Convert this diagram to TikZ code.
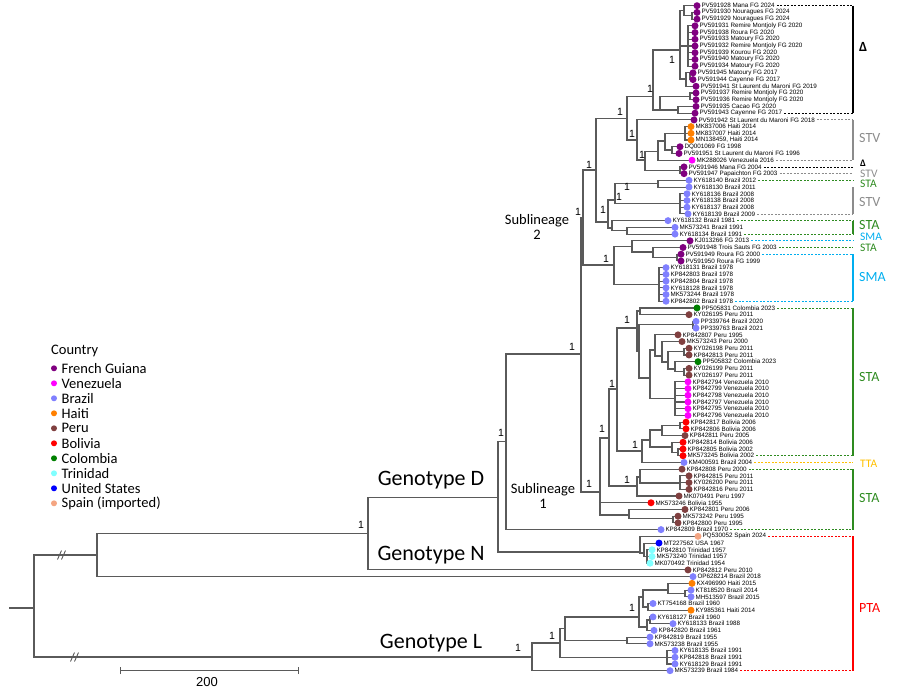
\documentclass[tikz,border=0pt]{standalone}
\usepackage{fontspec}
\setmainfont{Carlito}
\newfontfamily\arialf{Liberation Sans}
\definecolor{fg}{HTML}{800080}
\definecolor{ven}{HTML}{FF00FF}
\definecolor{bra}{HTML}{8080FF}
\definecolor{hai}{HTML}{FF8000}
\definecolor{per}{HTML}{804040}
\definecolor{bol}{HTML}{FF0000}
\definecolor{col}{HTML}{008000}
\definecolor{tri}{HTML}{80FFFF}
\definecolor{usa}{HTML}{0000FF}
\definecolor{spa}{HTML}{F4A582}
\definecolor{treeg}{HTML}{5A5A5A}
\definecolor{staC}{HTML}{2E8B20}
\definecolor{stvC}{HTML}{8C8C8C}
\definecolor{smaC}{HTML}{00AEEF}
\definecolor{ttaC}{HTML}{FFC000}
\definecolor{ptaC}{HTML}{FF0000}
\pgfdeclarelayer{bg}
\pgfsetlayers{bg,main}
\newcommand\labf{\arialf\fontsize{6.3}{7}\selectfont}
\newcommand\tp[4]{%
  \coordinate (t#1) at (#2,{5.7+6.717*(#1-1)});
  \node[tdot,fill=#3] (d#1) at (t#1) {};
  \node[lab] (l#1) at ([xshift=4.3pt]t#1) {#4};}
\newcommand\br[2]{\begin{pgfonlayer}{bg}\foreach \c in {#2}{\draw[br] (#1) |- (\c);}\end{pgfonlayer}}
\newcommand\nd[3]{\coordinate (#1) at (#2,#3);}
\newcommand\brk[5]{% color, top, bottom, label, label y
  \draw[lead,#1] ([xshift=2pt]l#2.east) -- (l#2.east -| bx);
  \draw[lead,#1] ([xshift=2pt]l#3.east) -- (l#3.east -| bx);
  \draw[#1,line width=1.4pt] (t#2 -| bx) -- (t#3 -| bx);
  \node[blab,text=#1] (bl#2) at (859,#5) {#4};}
\newcommand\sgl[4]{% color, idx, label, label y
  \draw[lead,#1] ([xshift=2pt]l#2.east) -- (l#2.east -| bx);
  \node[blab,text=#1,font=\fontsize{11.5}{12}\selectfont] (bl#2) at (860,#4) {#3};}
\begin{document}
\begin{tikzpicture}[x=1pt,y=-1pt,
  br/.style={draw=treeg,line width=1.1pt},
  tdot/.style={circle,inner sep=0pt,minimum size=7pt,draw=none},
  lab/.style={anchor=west,inner sep=0pt,font=\labf},
  lead/.style={line width=0.8pt,dash pattern=on 2pt off 1.5pt},
  blab/.style={anchor=west,inner sep=0pt,font=\fontsize{14}{15}\selectfont},
  bs/.style={inner sep=0pt,font=\arialf\fontsize{10.5}{11}\selectfont,text=black},
  geno/.style={inner sep=0pt,font=\fontsize{22}{24}\selectfont},
  subl/.style={inner sep=0pt,align=center,font=\fontsize{14.5}{15}\selectfont},
  legd/.style={circle,inner sep=0pt,minimum size=6pt,draw=none},
  legt/.style={anchor=west,inner sep=0pt,font=\fontsize{14.5}{15}\selectfont}]
\useasboundingbox (0,0) rectangle (900,698);
\coordinate (bx) at (853,0);
% ---------- tips ----------
\tp{1}{697}{fg}{PV591928 Mana FG 2024}
\tp{2}{697}{fg}{PV591930 Nouragues FG 2024}
\tp{3}{697}{fg}{PV591929 Nouragues FG 2024}
\tp{4}{695}{fg}{PV591931 Remire Montjoly FG 2020}
\tp{5}{695}{fg}{PV591938 Roura FG 2020}
\tp{6}{695}{fg}{PV591933 Matoury FG 2020}
\tp{7}{695}{fg}{PV591932 Remire Montjoly FG 2020}
\tp{8}{695}{fg}{PV591939 Kourou FG 2020}
\tp{9}{695}{fg}{PV591940 Matoury FG 2020}
\tp{10}{695}{fg}{PV591934 Matoury FG 2020}
\tp{11}{693}{fg}{PV591945 Matoury FG 2017}
\tp{12}{693}{fg}{PV591944 Cayenne FG 2017}
\tp{13}{696}{fg}{PV591941 St Laurent du Maroni FG 2019}
\tp{14}{696}{fg}{PV591937 Remire Montjoly FG 2020}
\tp{15}{696}{fg}{PV591936 Remire Montjoly FG 2020}
\tp{16}{696}{fg}{PV591935 Cacao FG 2020}
\tp{17}{695}{fg}{PV591943 Cayenne FG 2017}
\tp{18}{694}{fg}{PV591942 St Laurent du Maroni FG 2018}
\tp{19}{691}{hai}{MK837006 Haiti 2014}
\tp{20}{691}{hai}{MK837007 Haiti 2014}
\tp{21}{691}{hai}{MN138459, Haiti 2014}
\tp{22}{680}{fg}{DQ001069 FG 1998}
\tp{23}{679}{fg}{PV591951 St Laurent du Maroni FG 1996}
\tp{24}{692}{ven}{MK288026 Venezuela 2016}
\tp{25}{684}{fg}{PV591946 Mana FG 2004}
\tp{26}{684}{fg}{PV591947 Papaichton FG 2003}
\tp{27}{689}{bra}{KY618140 Brazil 2012}
\tp{28}{689}{bra}{KY618130 Brazil 2011}
\tp{29}{687}{bra}{KY618136 Brazil 2008}
\tp{30}{687}{bra}{KY618138 Brazil 2008}
\tp{31}{687}{bra}{KY618137 Brazil 2008}
\tp{32}{688}{bra}{KY618139 Brazil 2009}
\tp{33}{668}{bra}{KY618132 Brazil 1981}
\tp{34}{675}{bra}{MK573241 Brazil 1991}
\tp{35}{675}{bra}{KY618134 Brazil 1991}
\tp{36}{690}{fg}{KJ013266 FG 2013}
\tp{37}{683}{fg}{PV591948 Trois Sauts FG 2003}
\tp{38}{681}{fg}{PV591949 Roura FG 2000}
\tp{39}{681}{fg}{PV591950 Roura FG 1999}
\tp{40}{666}{bra}{KY618131 Brazil 1978}
\tp{41}{666}{bra}{KP842803 Brazil 1978}
\tp{42}{666}{bra}{KP842804 Brazil 1978}
\tp{43}{666}{bra}{KY618128 Brazil 1978}
\tp{44}{666}{bra}{MK573244 Brazil 1978}
\tp{45}{666}{bra}{KP842802 Brazil 1978}
\tp{46}{697}{col}{PP505831 Colombia 2023}
\tp{47}{689}{per}{KY026195 Peru 2011}
\tp{48}{696}{bra}{PP339764 Brazil 2020}
\tp{49}{696}{bra}{PP339763 Brazil 2021}
\tp{50}{678}{per}{KP842807 Peru 1995}
\tp{51}{682}{per}{MK573243 Peru 2000}
\tp{52}{689}{per}{KY026198 Peru 2011}
\tp{53}{689}{per}{KP842813 Peru 2011}
\tp{54}{698}{col}{PP505832 Colombia 2023}
\tp{55}{689}{per}{KY026199 Peru 2011}
\tp{56}{689}{per}{KY026197 Peru 2011}
\tp{57}{688}{ven}{KP842794 Venezuela 2010}
\tp{58}{688}{ven}{KP842799 Venezuela 2010}
\tp{59}{688}{ven}{KP842798 Venezuela 2010}
\tp{60}{688}{ven}{KP842797 Venezuela 2010}
\tp{61}{688}{ven}{KP842795 Venezuela 2010}
\tp{62}{688}{ven}{KP842796 Venezuela 2010}
\tp{63}{686}{bol}{KP842817 Bolivia 2006}
\tp{64}{686}{bol}{KP842806 Bolivia 2006}
\tp{65}{685}{per}{KP842811 Peru 2005}
\tp{66}{683}{bol}{KP842814 Bolivia 2006}
\tp{67}{683}{bol}{KP842805 Bolivia 2002}
\tp{68}{683}{bol}{MK573245 Bolivia 2002}
\tp{69}{684}{bra}{KM400591 Brazil 2004}
\tp{70}{682}{per}{KP842808 Peru 2000}
\tp{71}{689}{per}{KP842815 Peru 2011}
\tp{72}{689}{per}{KY026200 Peru 2011}
\tp{73}{689}{per}{KP842816 Peru 2011}
\tp{74}{679}{per}{MK070491 Peru 1997}
\tp{75}{651}{bol}{MK573246 Bolivia 1955}
\tp{76}{685}{per}{KP842801 Peru 2006}
\tp{77}{678}{per}{MK573242 Peru 1995}
\tp{78}{678}{per}{KP842800 Peru 1995}
\tp{79}{661}{bra}{KP842809 Brazil 1970}
\tp{80}{698}{spa}{PQ530052 Spain 2024}
\tp{81}{659}{usa}{MT227562 USA 1967}
\tp{82}{652}{tri}{KP842810 Trinidad 1957}
\tp{83}{652}{tri}{MK573240 Trinidad 1957}
\tp{84}{650}{tri}{MK070492 Trinidad 1954}
\tp{85}{688}{per}{KP842812 Peru 2010}
\tp{86}{693}{bra}{OP628214 Brazil 2018}
\tp{87}{692}{hai}{KX496990 Haiti 2015}
\tp{88}{691}{bra}{KT818520 Brazil 2014}
\tp{89}{691}{bra}{MH513597 Brazil 2015}
\tp{90}{653}{bra}{KT754168 Brazil 1960}
\tp{91}{691}{hai}{KY985361 Haiti 2014}
\tp{92}{653}{bra}{KY618127 Brazil 1960}
\tp{93}{673}{bra}{KY618133 Brazil 1988}
\tp{94}{654}{bra}{KP842820 Brazil 1961}
\tp{95}{650}{bra}{KP842819 Brazil 1955}
\tp{96}{650}{bra}{MK573238 Brazil 1955}
\tp{97}{675}{bra}{KY618135 Brazil 1991}
\tp{98}{675}{bra}{KP842818 Brazil 1991}
\tp{99}{675}{bra}{KY618129 Brazil 1991}
\tp{100}{670}{bra}{MK573239 Brazil 1984}
% ---------- internal nodes ----------
\nd{rootL}{9}{608}\nd{R}{34}{608}
\nd{U}{97}{555}\nd{L0}{532}{657}
\nd{DN}{368}{533.7}\nd{D}{498}{497.5}\nd{D1}{506}{441.7}
\nd{DT}{640}{552}\nd{DT2}{644}{553}\nd{Trin}{647}{556.5}
\nd{S}{581}{354}\nd{SL2}{583}{218}\nd{SL1}{600}{492}
\nd{P}{596}{170}\nd{Q}{614}{265}
\nd{P1}{627}{118.3}\nd{P2}{608}{222}
\nd{Dtop}{653}{96.7}\nd{Da}{680}{50}\nd{Dc}{660}{110}
\nd{Da1}{684}{10.8}\nd{p23}{692}{15.8}\nd{Da2}{688}{46}
\nd{Da3}{686}{79}\nd{p1112}{690}{72.9}
\nd{p1415}{690}{96.7}\nd{Dc2}{678}{110}
\nd{P1b}{637}{140}\nd{H}{645}{160}\nd{H1}{658}{151.7}
\nd{H2}{665}{141}\nd{Hai}{685}{133.3}\nd{FGp}{672}{150}\nd{p2526}{680}{170.2}
\nd{P2a}{615}{200}\nd{p2728}{658}{183.7}\nd{c2932}{680}{203.8}
\nd{P2b}{612}{228}\nd{p3435}{627}{230.7}
\nd{Qa}{632}{246.4}\nd{Fq}{653}{252}\nd{p3839}{677}{257.5}\nd{SMA}{659}{284.4}
\nd{T}{609}{438}\nd{X}{629}{515}\nd{p7778}{673}{518.5}
\nd{T1}{617}{389}\nd{T2}{637}{486}
\nd{T1a}{637}{328}\nd{T1b}{642}{451}
\nd{T1a1}{640}{311}\nd{T1a2}{639}{351}\nd{p4849}{693}{324.5}
\nd{T1a3}{650}{378}\nd{T1a4}{655}{350}\nd{Ven}{675}{398.7}
\nd{T1a5}{662}{356}\nd{T1a6}{668}{362}\nd{p5253}{684}{351.2}
\nd{T1a7}{675}{369}\nd{p5556}{684}{371.4}
\nd{T1c}{650}{440}\nd{T1d}{662}{430}\nd{T1e}{672}{447}
\nd{p6364}{680}{425.5}\nd{p6768}{678}{452.4}
\nd{T2a}{640}{477}\nd{T2b}{680}{483}
\nd{A}{560}{643}\nd{B}{565}{628.5}\nd{C}{667}{657.4}
\nd{KP}{627}{640.5}\nd{DL}{639}{617}
\nd{DL1}{643}{597}\nd{DL2}{647}{627}
\nd{trio}{668}{590}\nd{p8889}{685}{593.5}\nd{DL1b}{648}{607}\nd{DL2a}{650}{620}
% ---------- branches ----------
\begin{pgfonlayer}{bg}\draw[br] (rootL) -- (R);\end{pgfonlayer}
\br{R}{U,L0}
\br{U}{DN,t86}
\br{DN}{D,t85}
\br{D}{D1,DT}
\br{DT}{t80,DT2}\br{DT2}{t81,Trin}\br{Trin}{t82,t83,t84}
\br{D1}{S,t79}
\br{S}{SL2,SL1}
\br{SL2}{P,Q}
\br{P}{P1,P2}
\br{P1}{Dtop,P1b}
\br{Dtop}{Da,Dc}
\br{Da}{Da1,Da2,Da3}
\br{Da1}{t1,p23}\br{p23}{t2,t3}
\br{Da2}{t4,t5,t6,t7,t8,t9,t10}
\br{Da3}{p1112,t13}\br{p1112}{t11,t12}
\br{Dc}{p1415,Dc2}\br{p1415}{t14,t15}\br{Dc2}{t16,t17}
\br{P1b}{t18,H}
\br{H}{H1,p2526}\br{p2526}{t25,t26}
\br{H1}{H2,t24}
\br{H2}{Hai,FGp}\br{Hai}{t19,t20,t21}\br{FGp}{t22,t23}
\br{P2}{P2a,P2b}
\br{P2a}{p2728,c2932}\br{p2728}{t27,t28}\br{c2932}{t29,t30,t31,t32}
\br{P2b}{t33,p3435}\br{p3435}{t34,t35}
\br{Q}{Qa,SMA}
\br{Qa}{t36,Fq}\br{Fq}{t37,p3839}\br{p3839}{t38,t39}
\br{SMA}{t40,t41,t42,t43,t44,t45}
\br{SL1}{T,t75,X}
\br{X}{t76,p7778}\br{p7778}{t77,t78}
\br{T}{T1,T2}
\br{T1}{T1a,T1b}
\br{T1a}{T1a1,T1a2}\br{T1a1}{t46,t47}
\br{T1a2}{p4849,T1a3}\br{p4849}{t48,t49}
\br{T1a3}{T1a4,Ven}
\br{T1a4}{t50,T1a5}\br{T1a5}{t51,T1a6}
\br{T1a6}{p5253,T1a7}\br{p5253}{t52,t53}
\br{T1a7}{t54,p5556}\br{p5556}{t55,t56}
\br{Ven}{t57,t58,t59,t60,t61,t62}
\br{T1b}{T1c,t69}
\br{T1c}{T1d,T1e}
\br{T1d}{p6364,t65}\br{p6364}{t63,t64}
\br{T1e}{t66,p6768}\br{p6768}{t67,t68}
\br{T2}{T2a,t74}\br{T2a}{t70,T2b}\br{T2b}{t71,t72,t73}
\br{L0}{A,t100}
\br{A}{B,C}\br{C}{t97,t98,t99}
\br{B}{DL,KP}\br{KP}{t95,t96}
\br{DL}{DL1,DL2}
\br{DL1}{trio,DL1b}\br{trio}{t87,p8889}\br{p8889}{t88,t89}
\br{DL1b}{t90,t91}
\br{DL2}{DL2a,t94}\br{DL2a}{t92,t93}
% break marks
\foreach \bx/\by [count=\i] in {62/555,75/657}{
  \draw[treeg,line width=0.9pt] (\bx-4.5,\by+4.5) -- (\bx-0.5,\by-4.5);
  \draw[treeg,line width=0.9pt] (\bx-0.5,\by+4.5) -- (\bx+3.5,\by-4.5);}
% ---------- support values ----------
\foreach \x/\y [count=\i] in {361/525,518/648,552/636,632/608,501/433,572/347,589/484,602/429,612/384,627/320,635/445,627/480,578/212,589/165,620/112,632/134,650/89,672/60,606/259,603/210,619/197,627/187,642/155}
  \node[bs] (bs\i) at (\x,\y) {1};
% ---------- group labels ----------
\node[geno] (gD) at (431,480) {Genotype D};
\node[geno] (gN) at (431,555) {Genotype N};
\node[geno] (gL) at (431,643) {Genotype L};
\node[subl] (sl2) at (537,227) {Sublineage\\2};
\node[subl] (sl1) at (543,496) {Sublineage\\1};
% ---------- brackets ----------
\brk{black}{1}{17}{\textbf{Δ}}{47}
\brk{stvC}{18}{24}{STV}{138}
\sgl{black}{25}{\textbf{\fontsize{10}{10}\selectfont Δ}}{163.5}
\sgl{stvC}{26}{STV}{173.5}
\sgl{staC}{27}{STA}{184}
\draw[lead,stvC] ([xshift=2pt]l32.east) -- (l32.east -| bx);
\draw[stvC,line width=1.4pt] (t28 -| bx) -- (t32 -| bx);
\node[blab,text=stvC] (bl28) at (859,202) {STV};
\brk{staC}{33}{35}{STA}{225}
\sgl{smaC}{36}{SMA}{237}
\sgl{staC}{37}{STA}{248}
\brk{smaC}{38}{45}{SMA}{277}
\brk{staC}{46}{68}{STA}{377}
\sgl{ttaC}{69}{TTA}{464}
\brk{staC}{70}{79}{STA}{498}
\brk{ptaC}{80}{100}{PTA}{608}
% ---------- legend ----------
\node[legt] (ctry) at (51,351) {Country};
\foreach \c/\t [count=\i] in {fg/French Guiana,ven/Venezuela,bra/Brazil,hai/Haiti,per/Peru,bol/Bolivia,col/Colombia,tri/Trinidad,usa/United States,spa/Spain (imported)}{
  \node[legd,fill=\c] (ld\i) at (54,{353.3+15*\i}) {};
  \node[legt] (lt\i) at (61.5,{353.3+15*\i}) {\t};}
% ---------- scale bar ----------
\coordinate (sb1) at (120,670.7); \coordinate (sb2) at (298,670.7);
\draw[treeg,line width=0.9pt] (sb1) -- (sb2);
\draw[treeg,line width=0.9pt] ([yshift=-3.5pt]sb1) -- ([yshift=3.5pt]sb1);
\draw[treeg,line width=0.9pt] ([yshift=-3.5pt]sb2) -- ([yshift=3.5pt]sb2);
\node[inner sep=0pt,font=\arialf\fontsize{13}{13}\selectfont] (sbl) at (207,682.5) {200};
\end{tikzpicture}
\end{document}
